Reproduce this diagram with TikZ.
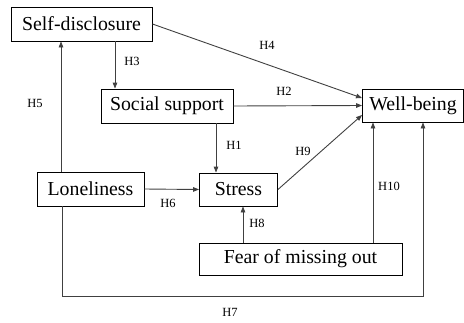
\documentclass[tikz,border=0pt]{standalone}
\usepackage{fontspec}
\setmainfont{LiberationSerif}[Extension=.ttf,UprightFont=*-Regular]
\usetikzlibrary{arrows.meta}
\begin{document}
\begin{tikzpicture}[x=1pt,y=-1pt,
  box/.style={draw=black,line width=0.9pt,inner sep=0pt,fill=white,
    font=\fontsize{19.8}{22}\selectfont},
  link/.style={draw=black!75,line width=0.9pt},
  arr/.style={link,-{Triangle[length=6pt,width=4.6pt]}},
  hyp/.style={font=\fontsize{12.5}{14}\selectfont,inner sep=0pt}]
\useasboundingbox (0,0) rectangle (464,322);

% constructs
\node[box,minimum width=141pt,minimum height=34pt] (sd) at (81.5,24) {Self-disclosure};
\node[box,minimum width=132pt,minimum height=34pt] (ss) at (167,106) {Social support};
\node[box,minimum width=101pt,minimum height=33pt] (wb) at (413,105.5) {Well-being};
\node[box,minimum width=107pt,minimum height=34pt] (lo) at (90.5,189) {Loneliness};
\node[box,minimum width=78pt,minimum height=33pt] (st) at (238.5,189.5) {Stress};
\node[box,minimum width=203pt,minimum height=32pt] (fo) at (300.5,259) {Fear of missing out};

% anchor points for the vertical paths
\coordinate (x3) at (115,0);
\coordinate (x1) at (216,0);
\coordinate (x5) at (61,0);
\coordinate (x8) at (243,0);
\coordinate (x10) at (373,0);
\coordinate (x7a) at (62,0);
\coordinate (x7b) at (423,0);
\coordinate (bot) at (0,296);

% hypothesised paths
\draw[arr] (sd.south -| x3) -- (ss.north -| x3);
\draw[arr] (sd.east) -- ([yshift=7.5pt]wb.west);
\draw[arr] (ss.east) -- (wb.west);
\draw[arr] (ss.south -| x1) -- (st.north -| x1);
\draw[arr] (lo.north -| x5) -- (sd.south -| x5);
\draw[arr] (lo.east) -- (st.west);
\draw[arr] (st.east) -- ([yshift=-9.5pt]wb.west);
\draw[arr] (fo.north -| x8) -- (st.south -| x8);
\draw[arr] (fo.north -| x10) -- (wb.south -| x10);
\draw[arr] (lo.south -| x7a) -- (bot -| x7a) -- (bot -| x7b) -- (wb.south -| x7b);

% path labels
\node[hyp] (h1) at (234,145) {H1};
\node[hyp] (h2) at (284,91) {H2};
\node[hyp] (h3) at (132,61) {H3};
\node[hyp] (h4) at (267,45) {H4};
\node[hyp] (h5) at (35,103) {H5};
\node[hyp] (h6) at (168,203) {H6};
\node[hyp] (h7) at (230,312) {H7};
\node[hyp] (h8) at (257,223) {H8};
\node[hyp] (h9) at (303,151) {H9};
\node[hyp] (h10) at (389,186) {H10};
\end{tikzpicture}
\end{document}
